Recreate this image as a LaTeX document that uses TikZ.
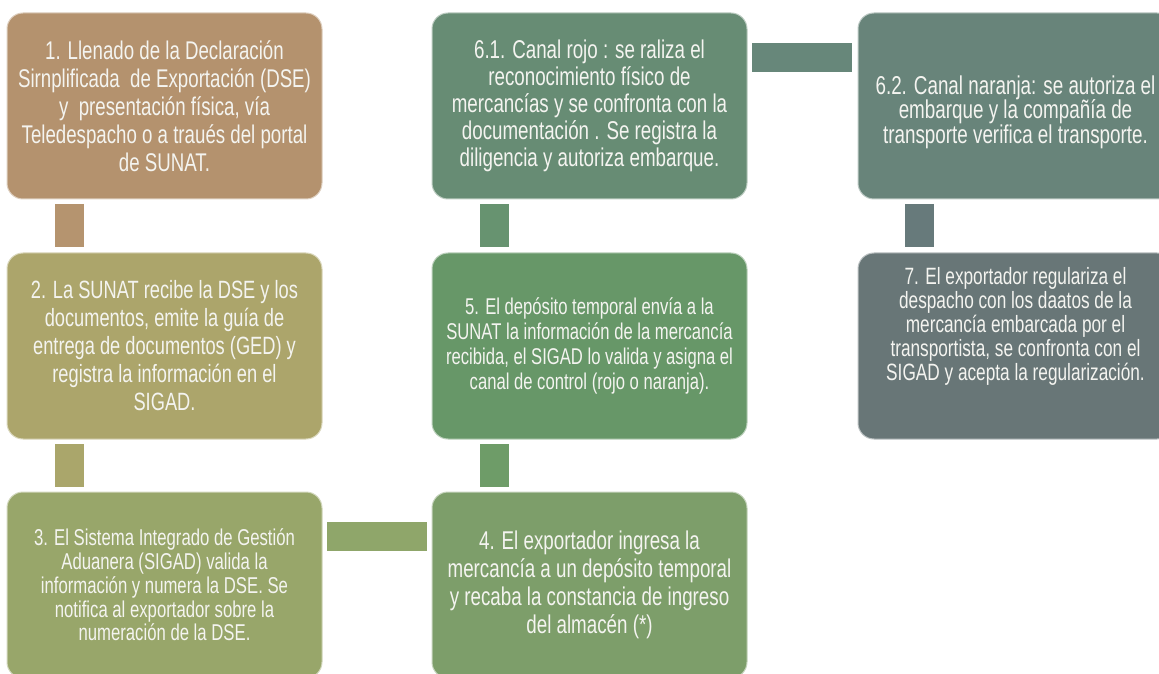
\documentclass[tikz,border=0pt]{standalone}
\usepackage{fontspec}
\setmainfont{Liberation Sans}[FakeStretch=0.73]
\definecolor{cA}{HTML}{B4926E}
\definecolor{cB}{HTML}{ACA56B}
\definecolor{cC}{HTML}{98A66A}
\definecolor{cD}{HTML}{7D9E6A}
\definecolor{cE}{HTML}{679768}
\definecolor{cF}{HTML}{678C74}
\definecolor{cG}{HTML}{68847A}
\definecolor{cH}{HTML}{687677}
\definecolor{kAB}{HTML}{B5946F}
\definecolor{kBC}{HTML}{AAA66B}
\definecolor{kCD}{HTML}{8FA66A}
\definecolor{kDE}{HTML}{6E9C68}
\definecolor{kEF}{HTML}{679370}
\definecolor{kFG}{HTML}{67877A}
\definecolor{kGH}{HTML}{677A7B}
\definecolor{txt}{HTML}{F4F4F0}
\newcommand{\boxfont}[2]{\fontsize{#1}{#2}\selectfont\lineskiplimit=-30pt}
\tikzset{
  stepbox/.style={rectangle, rounded corners=16pt, minimum width=315pt, minimum height=186pt,
    inner sep=0pt, outer sep=0pt, align=center, text=txt, draw=white!55!#1, line width=1pt, fill=#1},
  boxtext/.style={inner sep=0pt, outer sep=0pt, align=center, text=txt},
  bar/.style={draw=#1, line width=29pt, line cap=butt}
}
\begin{document}
\begin{tikzpicture}[x=1pt,y=1pt]
\useasboundingbox (0,0) rectangle (1159,673);
\clip (0,0) rectangle (1159,673);

\node[stepbox=cA, font=\boxfont{25.6}{28}] (b1) at (164.5,567)
 {1. Llenado de la Declaración\\Sirnplificada\ \ de Exportación (DSE)\\y\ \ presentación física, vía\\Teledespacho o a traués del portal\\de SUNAT.};
\node[stepbox=cB, font=\boxfont{25}{28}] (b2) at (164.5,327)
 {2. La SUNAT recibe la DSE y los\\documentos, emite la guía de\\entrega de documentos (GED) y\\registra la información en el\\SIGAD.};
\node[stepbox=cC, font=\boxfont{22.9}{23.7}] (b3) at (164.5,88)
 {3. El Sistema Integrado de Gestión\\Aduanera (SIGAD) valida la\\información y numera la DSE. Se\\notifica al exportador sobre la\\numeración de la DSE.};
\node[stepbox=cD, font=\boxfont{25.7}{28}] (b4) at (589.5,88)
 {4. El exportador ingresa la\\mercancía a un depósito temporal\\y recaba la constancia de ingreso\\del almacén (*)};
\node[stepbox=cE, font=\boxfont{22.8}{25}] (b5) at (589.5,327)
 {5. El depósito temporal envía a la\\SUNAT la información de la mercancía\\recibida, el SIGAD lo valida y asigna el\\canal de control (rojo o naranja).};
\node[stepbox=cF, font=\boxfont{25.7}{27}] (b61) at (589.5,567)
 {6.1. Canal rojo : se raliza el\\reconocimiento físico de\\mercancías y se confronta con la\\documentación . Se registra la\\diligencia y autoriza embarque.};
\node[stepbox=cG] (b62) at (1015.5,567) {};
\node[boxtext, font=\boxfont{25.8}{24.5}] (t62) at ([yshift=-6pt]b62.center)
 {6.2. Canal naranja: se autoriza el\\embarque y la compañía de\\transporte verifica el transporte.};
\node[stepbox=cH] (b7) at (1015.5,327) {};
\node[boxtext, font=\boxfont{23.6}{24}] (t7) at ([yshift=20pt]b7.center)
 {7. El exportador regulariza el\\despacho con los daatos de la\\mercancía embarcada por el\\transportista, se confronta con el\\SIGAD y acepta la regularización.};

\draw[bar=kAB] ([xshift=62.5pt,yshift=-5pt]b1.south west) -- ([xshift=62.5pt,yshift=6pt]b2.north west);
\draw[bar=kBC] ([xshift=62.5pt,yshift=-5pt]b2.south west) -- ([xshift=62.5pt,yshift=5pt]b3.north west);
\draw[bar=kCD] ([xshift=5pt,yshift=-44.5pt]b3.north east) -- ([xshift=-5pt,yshift=-44.5pt]b4.north west);
\draw[bar=kDE] ([xshift=62.5pt,yshift=5pt]b4.north west) -- ([xshift=62.5pt,yshift=-5pt]b5.south west);
\draw[bar=kEF] ([xshift=62.5pt,yshift=6pt]b5.north west) -- ([xshift=62.5pt,yshift=-5pt]b61.south west);
\draw[bar=kFG] ([xshift=5pt,yshift=-44.5pt]b61.north east) -- ([xshift=-6pt,yshift=-44.5pt]b62.north west);
\draw[bar=kGH] ([xshift=61.5pt,yshift=-5pt]b62.south west) -- ([xshift=61.5pt,yshift=6pt]b7.north west);
\end{tikzpicture}
\end{document}
